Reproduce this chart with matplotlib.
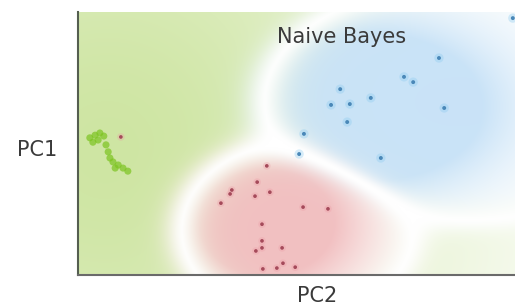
import numpy as np
import matplotlib.pyplot as plt

# points (PC2 on x, PC1 on y)
blue_x = [8.26, 7.46, 7.67, 6.00, 6.70, 5.79, 6.22, 6.16, 8.38, 5.17, 5.06, 6.93, 9.95]
blue_y = [4.95, 4.52, 4.40, 4.24, 4.04, 3.88, 3.90, 3.49, 3.81, 3.22, 2.76, 2.67, 5.86]

red_x = [4.32, 4.10, 3.52, 3.48, 3.27, 4.05, 4.39, 5.15, 5.72, 4.21,
         4.21, 4.21, 4.07, 4.67, 4.69, 4.55, 4.23, 4.97, 0.98]
red_y = [2.49, 2.12, 1.94, 1.85, 1.64, 1.80, 1.89, 1.55, 1.51, 1.16,
         0.78, 0.62, 0.55, 0.62, 0.27, 0.16, 0.14, 0.18, 3.15]

green_x = [0.27, 0.39, 0.50, 0.59, 0.46, 0.34, 0.64, 0.69, 0.73, 0.80, 0.92, 1.03, 1.14, 0.85]
green_y = [3.13, 3.19, 3.24, 3.17, 3.08, 3.03, 2.97, 2.81, 2.67, 2.58, 2.51, 2.44, 2.37, 2.44]

title = 'Naive Bayes'

# shaded class regions: one gaussian per class centred on its points
xs = np.linspace(0, 10, 400)
ys = np.linspace(0, 6, 240)
X, Y = np.meshgrid(xs, ys)

def blob(px, py, sx, sy, gain):
    px, py = np.asarray(px), np.asarray(py)
    keep = np.hypot(px - np.median(px), py - np.median(py)) < 2.5  # drop strays
    mx, my = px[keep].mean(), py[keep].mean()
    return gain * np.exp(-0.5 * (((X - mx) / sx)**2 + ((Y - my) / sy)**2))

S = np.stack([blob(green_x, green_y, 4.0, 4.0, 1.0),
              blob(blue_x, blue_y, 2.1, 1.35, 1.22),
              blob(red_x, red_y, 1.6, 1.25, 1.75)])

P = S**3.5 / (S**3.5).sum(axis=0)
fade = np.clip((P.max(axis=0) - 0.43) / 0.55, 0, 1)
fade = fade * fade * (3 - 2 * fade)
inten = np.stack([np.sqrt(S[0]),
                  np.clip(S[1] / 1.22 * 2.2, 0, 1),
                  np.clip(S[2] / 1.75 * 1.6, 0, 1)])

cols = np.array([[0.81, 0.90, 0.64],
                 [0.79, 0.89, 0.97],
                 [0.95, 0.75, 0.76]])

img = np.ones(X.shape + (3,))
for c in range(3):
    k = P[c] * fade * inten[c]
    img -= k[..., None] * (1 - cols[c])

fig = plt.figure(figsize=(5.15, 3.07), dpi=100)
ax = fig.add_axes([0.1515, 0.104, 0.8485, 0.857])
ax.imshow(img, extent=(0, 10, 0, 6), origin='lower', aspect='auto', interpolation='bilinear')

ax.scatter(green_x, green_y, s=26, color='#7cc420', alpha=0.7, edgecolors='none')
ax.scatter(blue_x, blue_y, s=45, color='#8ccbf0', alpha=0.35, edgecolors='none')
ax.scatter(blue_x, blue_y, s=8, color='#4a88b8', edgecolors='none')
ax.scatter(red_x, red_y, s=30, color='#ec9aa4', alpha=0.3, edgecolors='none')
ax.scatter(red_x, red_y, s=7, color='#a54a5a', edgecolors='none')

ax.set_xlim(0, 10)
ax.set_ylim(0, 6)
ax.set_xticks([])
ax.set_yticks([])
for s in ['top', 'right']:
    ax.spines[s].set_visible(False)
ax.spines['left'].set_color('#555f50')
ax.spines['bottom'].set_color('#6a6a6a')
ax.spines['left'].set_linewidth(1.5)
ax.spines['bottom'].set_linewidth(1.5)

ax.text(6.02, 5.43, title, ha='center', va='center', fontsize=15, color='#3a3a3a')
fig.text(0.072, 0.511, 'PC1', ha='center', va='center', fontsize=15, color='#3a3a3a')
fig.text(0.616, 0.035, 'PC2', ha='center', va='center', fontsize=15, color='#3a3a3a')

fig.savefig('out.png', dpi=100)
